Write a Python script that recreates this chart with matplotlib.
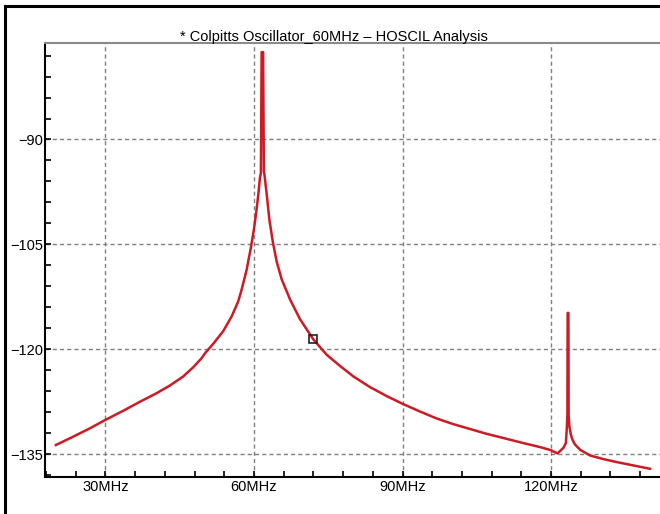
import matplotlib
matplotlib.use("Agg")
import matplotlib.pyplot as plt
from matplotlib.lines import Line2D
from matplotlib.ticker import MultipleLocator, FixedLocator

plt.rcParams['font.family'] = ['Liberation Sans', 'DejaVu Sans']

# Data (frequency in MHz, level)
freq = [20.0, 23.5, 26.9, 30.0, 33.6, 37.0, 40.3, 43.0, 45.7, 47.7, 49.4, 50.2, 51.8, 53.8,
        55.5, 56.8, 57.5, 58.5, 59.4, 60.0, 60.55, 60.95, 61.2, 61.4,
        61.55, 61.85, 62.0, 62.1, 62.57, 63.1, 63.8, 64.6, 65.6, 67.3, 69.3, 72.0, 74.7,
        77.4, 80.1, 83.4, 86.8, 90.0, 93.5, 96.9, 100.2, 103.6, 107.0, 110.4, 113.7,
        117.8, 119.8, 121.3, 122.5, 123.0, 123.2,
        123.3, 123.35, 123.5, 123.55, 123.7, 124.0, 124.3, 124.8, 125.9, 127.9, 130.5,
        133.0, 136.5, 140.0]
level = [-133.7, -132.5, -131.3, -130.1, -128.8, -127.5, -126.3, -125.2, -123.9, -122.6,
         -121.3, -120.5, -119.2, -117.4,
         -115.3, -113.2, -111.5, -108.7, -105.4, -102.8, -99.9, -97.4, -95.5, -94.8,
         -77.5, -77.5, -94.6, -94.9, -97.8, -101.4, -104.6, -107.5, -110.0, -112.9,
         -115.7, -118.6, -120.8,
         -122.4, -123.9, -125.4, -126.7, -127.8, -128.9, -129.9, -130.7, -131.4, -132.1,
         -132.7, -133.3,
         -134.0, -134.4, -134.9, -134.1, -133.4, -131.0,
         -129.3, -114.8, -114.8, -129.5, -131.0, -132.2, -132.9, -133.6, -134.4, -135.2,
         -135.7, -136.1, -136.6, -137.1]

marker_f = [72.0]
marker_v = [-118.6]

x_major = [30, 60, 90, 120]
x_labels = ['30MHz', '60MHz', '90MHz', '120MHz']
y_major = [-90, -105, -120, -135]
y_labels = ['\u221290', '\u2212105', '\u2212120', '\u2212135']
title = '* Colpitts Oscillator_60MHz \u2013 HOSCIL Analysis'

W, H = 660, 514
fig = plt.figure(figsize=(W / 100, H / 100), dpi=100)
fig.patch.set_facecolor('white')

ax = fig.add_axes([45 / W, 1 - 476.5 / H, 1 - 45 / W, (476.5 - 43) / H])
ax.plot(freq, level, color='#cc1b24', lw=1.8, solid_joinstyle='round', zorder=3)
ax.plot(marker_f, marker_v, ls='none', marker='s', ms=5.5, mfc='none',
        mec='#222222', mew=1.2, zorder=4)

ax.set_xlim(17.8, 142.0)
ax.set_ylim(-138.2, -76.2)

ax.xaxis.set_major_locator(FixedLocator(x_major))
ax.set_xticklabels(x_labels)
ax.xaxis.set_minor_locator(MultipleLocator(6))
ax.yaxis.set_major_locator(FixedLocator(y_major))
ax.set_yticklabels(y_labels)
ax.yaxis.set_minor_locator(MultipleLocator(3))

ax.tick_params(which='both', direction='in', length=4, width=1.2, color='black',
               labelsize=10.5, labelcolor='black', top=False, right=False)
ax.tick_params(axis='y', which='major', pad=1.5)
ax.tick_params(axis='x', which='major', pad=2.5)

ax.grid(True, which='major', color='#808080', lw=1.0, ls=(0, (3, 2.2)))

ax.spines['right'].set_visible(False)
ax.spines['left'].set_linewidth(1.5)
ax.spines['bottom'].set_linewidth(1.5)
ax.spines['left'].set_color('black')
ax.spines['bottom'].set_color('black')
ax.spines['top'].set_color('#8a8a8a')
ax.spines['top'].set_linewidth(1.5)

fig.text(333.5 / W, 1 - 41 / H, title, ha='center', va='baseline', fontsize=10.5)

# outer frame (top and left border)
fig.add_artist(Line2D([5 / W, 1.0], [1 - 6 / H, 1 - 6 / H], transform=fig.transFigure,
                      color='black', lw=2.2))
fig.add_artist(Line2D([5 / W, 5 / W], [0, 1 - 6 / H], transform=fig.transFigure,
                      color='black', lw=2.2))

fig.savefig('out.png', dpi=100)
